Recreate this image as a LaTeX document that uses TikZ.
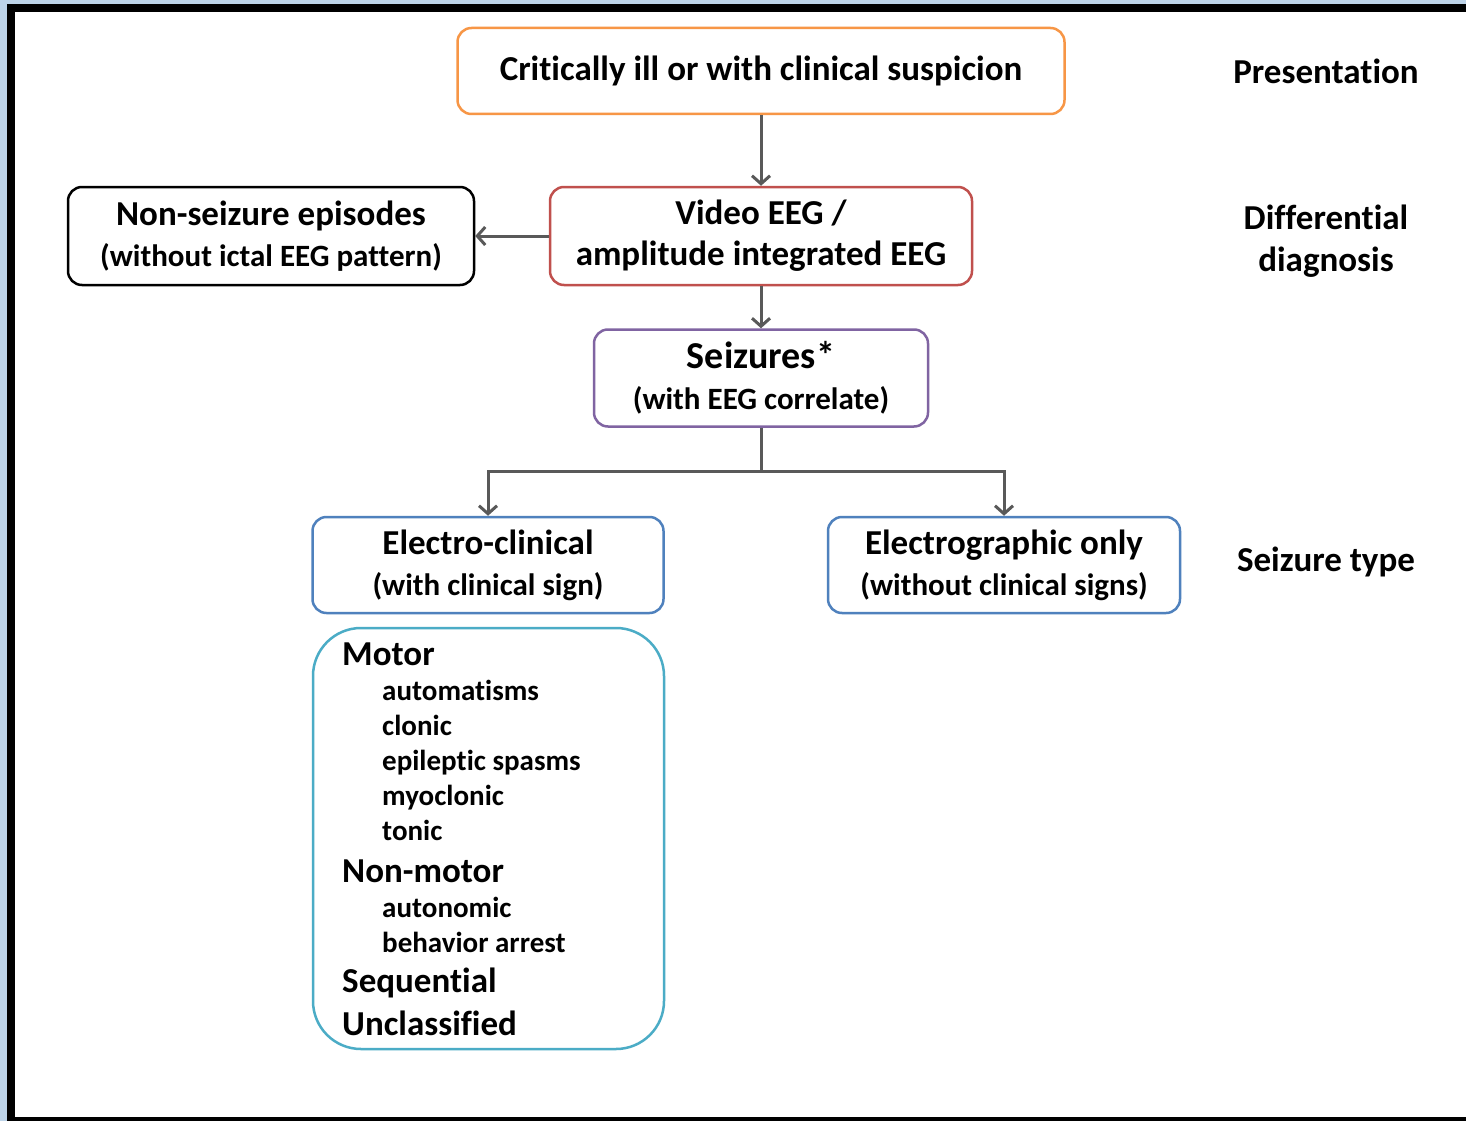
\documentclass[tikz,border=0pt]{standalone}
\usepackage{fontspec}
\setmainfont{Carlito}[Ligatures=CommonOff]
\usetikzlibrary{arrows.meta}
\definecolor{framebg}{HTML}{BDD3E8}
\definecolor{corange}{HTML}{F79646}
\definecolor{cred}{HTML}{C0504D}
\definecolor{cpurple}{HTML}{8064A2}
\definecolor{cblue}{HTML}{4F81BD}
\definecolor{cteal}{HTML}{4BACC6}
\definecolor{cline}{HTML}{595959}
\begin{document}
\begin{tikzpicture}[x=1pt,y=-1pt,
  box/.style={draw, line width=2.5pt, rounded corners=14pt, fill=white, align=center, inner sep=0pt, font=\bfseries\fontsize{35}{41}\selectfont},
  side/.style={align=center, font=\bfseries\fontsize{35}{42}\selectfont},
  head/.style={anchor=base west, inner sep=0pt, font=\bfseries\fontsize{35}{40}\selectfont},
  item/.style={anchor=base west, inner sep=0pt, font=\bfseries\fontsize{29}{34}\selectfont},
  conn/.style={draw=cline, line width=3pt, -{Straight Barb[length=8pt,width=18pt]}},
  connplain/.style={draw=cline, line width=3pt}]
\fill[framebg] (0,0) rectangle (1466,1121);
\fill[black] (7,4) rectangle (1466,1121);
\fill[white] (15,12) rectangle (1466,1117);
\useasboundingbox (0,0) rectangle (1466,1121);

\node[box, draw=corange, minimum width=607, minimum height=86] (pres) at (761,71) {Critically ill or with clinical suspicion};
\node[box, draw=cred, minimum width=422, minimum height=98] (veeg) at (761,236) {Video EEG /\\ amplitude integrated EEG};
\node[box, draw=black, minimum width=406, minimum height=98] (nonsz) at (271,236) {Non-seizure episodes\\ {\fontsize{31}{41}\selectfont (without ictal EEG pattern)}};
\node[box, draw=cpurple, minimum width=334, minimum height=97] (sz) at (761,378) {{\fontsize{38}{42}\selectfont Seizures*}\\ {\fontsize{31}{42}\selectfont (with EEG correlate)}};
\node[box, draw=cblue, minimum width=351, minimum height=96] (ec) at (488,565) {Electro-clinical\\ {\fontsize{31}{41}\selectfont (with clinical sign)}};
\node[box, draw=cblue, minimum width=352, minimum height=96] (eo) at (1004,565) {Electrographic only\\ {\fontsize{31}{41}\selectfont (without clinical signs)}};
\node[draw=cteal, line width=2.5pt, rounded corners=48pt, minimum width=351, minimum height=421, inner sep=0pt] (list) at (488.5,838.5) {};

\node[side] (lpres) at (1326,71) {Presentation};
\node[side] (ldiff) at (1326,241) {Differential\\ diagnosis};
\node[side] (ltype) at (1326,562) {Seizure type};

\node[head] (h1) at (342,665) {Motor};
\node[item] (i1) at (382,700) {automatisms};
\node[item] (i2) at (382,735) {clonic};
\node[item] (i3) at (382,770) {epileptic spasms};
\node[item] (i4) at (382,805) {myoclonic};
\node[item] (i5) at (382,840) {tonic};
\node[head] (h2) at (342,882) {Non-motor};
\node[item] (i6) at (382,917) {autonomic};
\node[item] (i7) at (382,952) {behavior arrest};
\node[head] (h3) at (342,992) {Sequential};
\node[head] (h4) at (342,1035) {Unclassified};

\coordinate (split) at (761,471);
\draw[conn] (pres) -- (veeg);
\draw[conn] (veeg) -- (nonsz);
\draw[conn] (veeg) -- (sz);
\draw[connplain] (sz) -- (split);
\draw[conn] (split) -| (ec);
\draw[conn] (split) -| (eo);
\end{tikzpicture}
\end{document}
